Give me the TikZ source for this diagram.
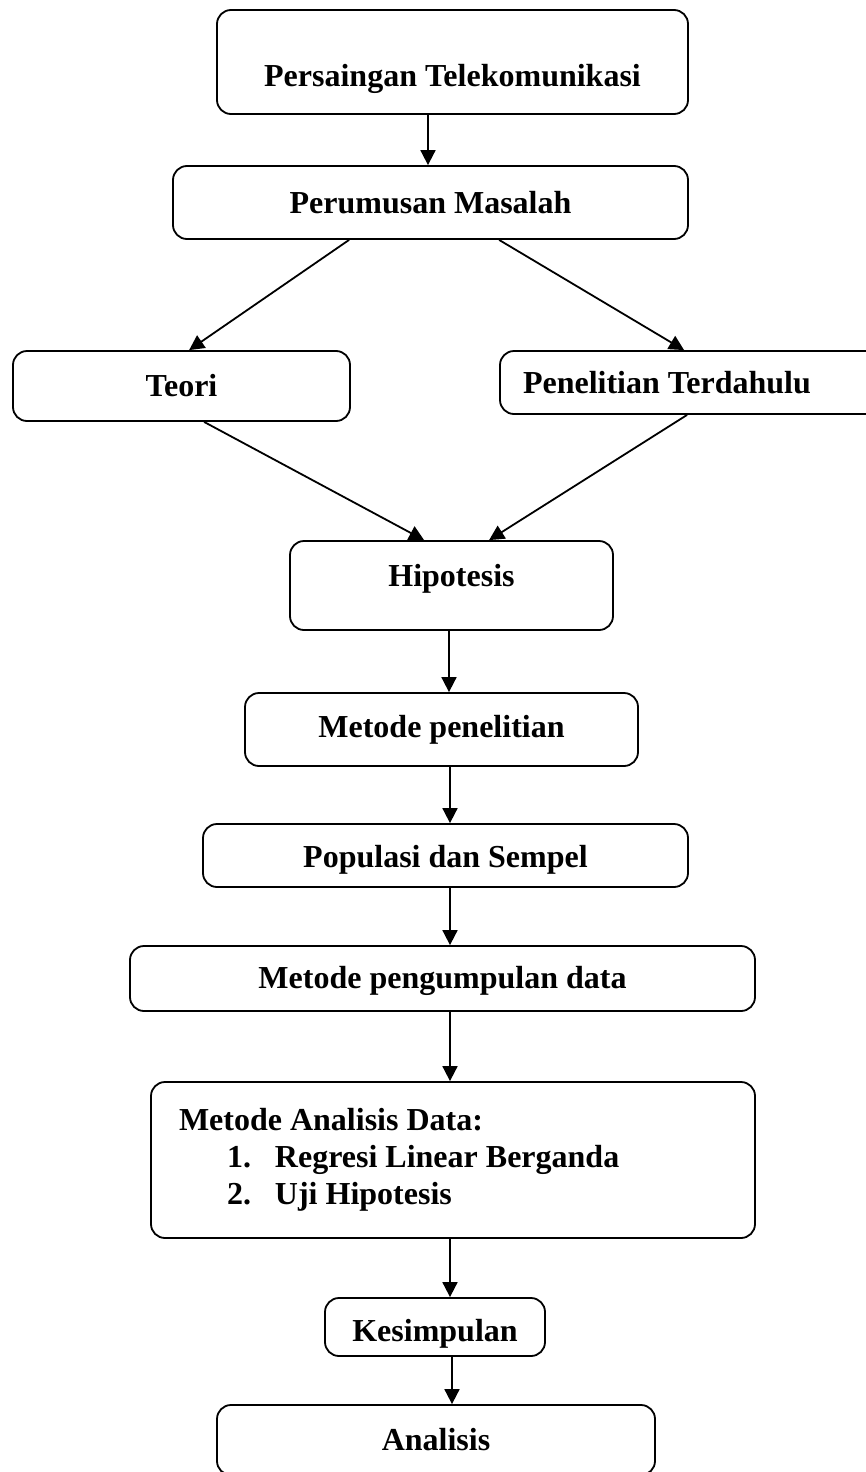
\documentclass[tikz,border=0pt]{standalone}
\usepackage{fontspec}
\setmainfont{Liberation Serif}
\usepackage{tikz}
\usetikzlibrary{arrows.meta}

\begin{document}
\begin{tikzpicture}[
  x=1pt, y=-1pt,
  box/.style={draw, line width=1.8pt, rounded corners=14pt, align=center, inner sep=0pt,
    font=\bfseries\fontsize{32}{37}\selectfont},
  arrow/.style={-{Triangle[length=15pt, width=15pt]}, line width=1.8pt}
]
\useasboundingbox (0,0) rectangle (866,1472);
\clip (0,0) rectangle (866,1472);
\node[box, minimum width=471pt, minimum height=104pt, text height=56pt, text depth=7pt] (persaingan) at (452.5,62) {Persaingan Telekomunikasi};
\node[box, minimum width=515pt, minimum height=73pt] (masalah) at (430.5,202.5) {Perumusan Masalah};
\node[box, minimum width=337pt, minimum height=70pt] (teori) at (181.5,386) {Teori};
\node[box, minimum width=400pt, minimum height=63pt, inner xsep=23pt, text width=354pt, align=flush left] (terdahulu) at (700,382.5) {Penelitian Terdahulu};
\node[box, minimum width=323pt, minimum height=89pt, text height=22pt, text depth=21pt] (hipotesis) at (451.5,585.5) {Hipotesis};
\node[box, minimum width=393pt, minimum height=73pt] (metpen) at (441.5,729.5) {Metode penelitian};
\node[box, minimum width=485pt, minimum height=63pt, text height=26pt, text depth=2pt] (populasi) at (445.5,855.5) {Populasi dan Sempel};
\node[box, minimum width=625pt, minimum height=65pt, text height=24pt, text depth=4pt] (pengumpulan) at (442.5,978.5) {Metode pengumpulan data};
\node[box, minimum width=604pt, minimum height=156pt, inner xsep=28pt, text width=548pt, align=flush left] (analisisdata) at (453,1160)
  {Metode Analisis Data:\\
   \hspace*{48pt}\makebox[48pt][l]{1.}Regresi Linear Berganda\\
   \hspace*{48pt}\makebox[48pt][l]{2.}Uji Hipotesis};
\node[box, minimum width=220pt, minimum height=58pt, text height=28pt, text depth=0pt] (kesimpulan) at (435,1327) {Kesimpulan};
\node[box, minimum width=438pt, minimum height=70pt] (analisis) at (436,1440) {Analisis};
\draw[arrow] ([xshift=-24.5pt]persaingan.south) -- ([xshift=-24.5pt]persaingan.south |- masalah.north);
\draw[arrow] ([xshift=177pt]masalah.south west) -- ([xshift=177pt]teori.north west);
\draw[arrow] ([xshift=327pt]masalah.south west) -- ([xshift=185pt]terdahulu.north west);
\draw[arrow] ([xshift=192pt]teori.south west) -- ([xshift=135pt]hipotesis.north west);
\draw[arrow] ([xshift=188pt]terdahulu.south west) -- ([xshift=200pt]hipotesis.north west);
\draw[arrow] ([xshift=-2.5pt]hipotesis.south) -- ([xshift=-2.5pt]hipotesis.south |- metpen.north);
\draw[arrow] ([xshift=8.5pt]metpen.south) -- ([xshift=8.5pt]metpen.south |- populasi.north);
\draw[arrow] ([xshift=4.5pt]populasi.south) -- ([xshift=4.5pt]populasi.south |- pengumpulan.north);
\draw[arrow] ([xshift=7.5pt]pengumpulan.south) -- ([xshift=7.5pt]pengumpulan.south |- analisisdata.north);
\draw[arrow] ([xshift=-3pt]analisisdata.south) -- ([xshift=-3pt]analisisdata.south |- kesimpulan.north);
\draw[arrow] ([xshift=17pt]kesimpulan.south) -- ([xshift=17pt]kesimpulan.south |- analisis.north);
\end{tikzpicture}
\end{document}
